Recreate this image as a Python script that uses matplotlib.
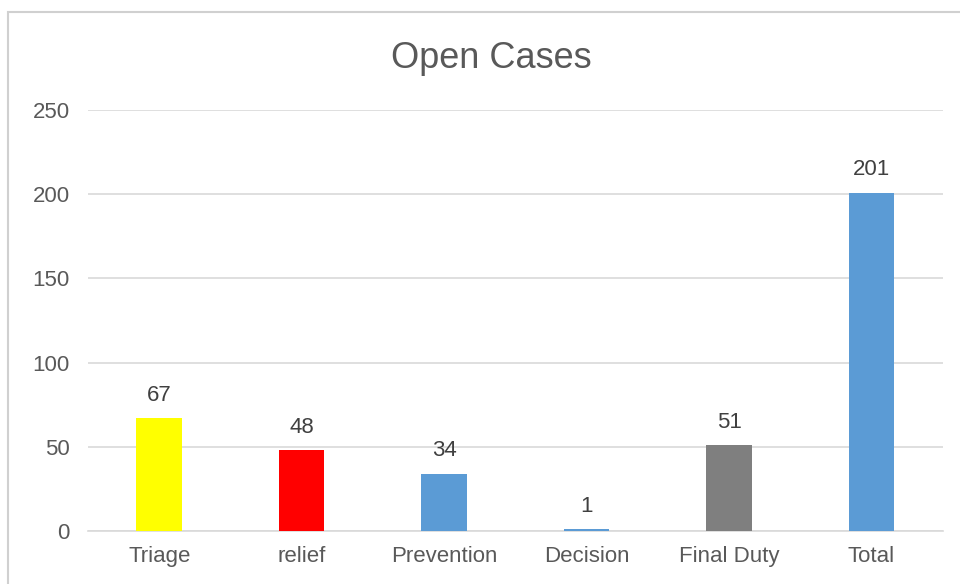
import matplotlib
matplotlib.use("Agg")
import matplotlib.pyplot as plt
from matplotlib.patches import Rectangle

categories = ["Triage", "relief", "Prevention", "Decision", "Final Duty", "Total"]
counts = [67, 48, 34, 1, 51, 201]
bar_colors = ["#FFFF00", "#FF0000", "#5B9BD5", "#5B9BD5", "#7F7F7F", "#5B9BD5"]
y_ticks = [0, 50, 100, 150, 200, 250]

plt.rcParams["font.family"] = ["Liberation Sans", "DejaVu Sans"]

fig = plt.figure(figsize=(9.6, 5.84), dpi=100)
ax = fig.add_axes([0.0917, 0.0908, 0.8903, 0.7208])

# light frame around the chart area
fig.patches.append(Rectangle((8 / 960, -0.05), 1.0, 1 - 12 / 584 + 0.05,
                             transform=fig.transFigure, fill=False,
                             edgecolor="#d0d0d0", linewidth=1.5))

x = range(len(categories))
bars = ax.bar(x, counts, width=0.32, color=bar_colors, zorder=3)
ax.bar_label(bars, labels=[str(v) for v in counts], padding=9,
             fontsize=16, color="#404040")

ax.set_xlim(-0.5, len(categories) - 0.5)
ax.set_ylim(0, 250)
ax.set_yticks(y_ticks)
ax.set_xticks(list(x))
ax.set_xticklabels(categories)
ax.yaxis.grid(True, color="#d9d9d9", linewidth=1.2, zorder=0)
ax.set_axisbelow(True)
for side in ["top", "right", "left"]:
    ax.spines[side].set_visible(False)
ax.spines["bottom"].set_color("#d9d9d9")
ax.spines["bottom"].set_linewidth(1.2)
ax.tick_params(axis="both", length=0, labelsize=16, labelcolor="#595959")
ax.tick_params(axis="x", pad=11)
ax.tick_params(axis="y", pad=13)

fig.text(0.512, 0.9, "Open Cases", ha="center", va="center",
         fontsize=26, color="#595959")

fig.savefig("out.png", dpi=100)
